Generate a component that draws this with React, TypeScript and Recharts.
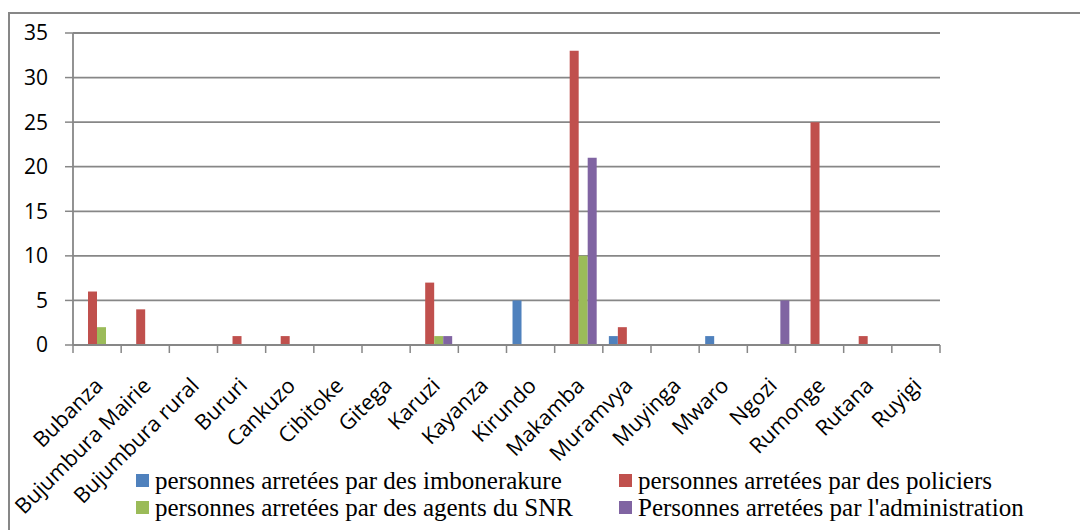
import { Bar, BarChart, CartesianGrid, Legend, XAxis, YAxis } from "recharts"

const categories = [
  "Bubanza",
  "Bujumbura Mairie",
  "Bujumbura rural",
  "Bururi",
  "Cankuzo",
  "Cibitoke",
  "Gitega",
  "Karuzi",
  "Kayanza",
  "Kirundo",
  "Makamba",
  "Muramvya",
  "Muyinga",
  "Mwaro",
  "Ngozi",
  "Rumonge",
  "Rutana",
  "Ruyigi",
]
const imbonerakure = [0, 0, 0, 0, 0, 0, 0, 0, 0, 5, 0, 1, 0, 1, 0, 0, 0, 0]
const policiers = [6, 4, 0, 1, 1, 0, 0, 7, 0, 0, 33, 2, 0, 0, 0, 25, 1, 0]
const agentsSnr = [2, 0, 0, 0, 0, 0, 0, 1, 0, 0, 10, 0, 0, 0, 0, 0, 0, 0]
const administration = [0, 0, 0, 0, 0, 0, 0, 1, 0, 0, 21, 0, 0, 0, 5, 0, 0, 0]
const yTicks = [0, 5, 10, 15, 20, 25, 30, 35]

const series = [
  { key: "imbonerakure", name: "personnes arretées par des imbonerakure", color: "#4f81bd" },
  { key: "policiers", name: "personnes arretées par des policiers", color: "#c0504d" },
  { key: "snr", name: "personnes arretées par des agents du SNR", color: "#9bbb59" },
  { key: "administration", name: "Personnes arretées par l'administration", color: "#8064a2" },
]

const data = categories.map((name, i) => ({
  name,
  imbonerakure: imbonerakure[i],
  policiers: policiers[i],
  snr: agentsSnr[i],
  administration: administration[i],
}))

const W = 1080
const H = 530
const margin = { top: 33, right: 140, bottom: 85, left: 0 }
const Y_W = 73
const X_H = 100
const PLOT_BOTTOM = H - margin.bottom - X_H
const BAND = (W - margin.left - margin.right - Y_W) / categories.length
const GRID = "#878787"

function CategoryTick(props: any) {
  const { x, payload, index } = props
  const left = x - BAND / 2
  const tx = x + 7
  const ty = PLOT_BOTTOM + 42
  return (
    <g>
      <line x1={left} y1={PLOT_BOTTOM} x2={left} y2={PLOT_BOTTOM + 8} stroke={GRID} strokeWidth={1.5} />
      {index === categories.length - 1 && (
        <line x1={x + BAND / 2} y1={PLOT_BOTTOM} x2={x + BAND / 2} y2={PLOT_BOTTOM + 8} stroke={GRID} strokeWidth={1.5} />
      )}
      <text
        x={tx}
        y={ty}
        textAnchor="end"
        transform={`rotate(-45, ${tx}, ${ty})`}
        fontFamily="'Open Sans', sans-serif"
        fontSize={21.5}
        fill="#000"
      >
        {payload.value}
      </text>
    </g>
  )
}

function ChartLegend() {
  return (
    <div
      style={{
        display: "grid",
        gridTemplateColumns: "483px auto",
        fontFamily: "'Liberation Serif', 'Times New Roman', serif",
        fontSize: 25,
        color: "#000",
      }}
    >
      {series.map((s) => (
        <div key={s.key} style={{ display: "flex", alignItems: "center", height: 27, whiteSpace: "nowrap" }}>
          <span style={{ width: 13, height: 13, background: s.color, marginRight: 6, display: "inline-block" }} />
          {s.name}
        </div>
      ))}
    </div>
  )
}

export default function App() {
  return (
    <div style={{ position: "absolute", left: 0, top: 0, width: W, height: H, overflow: "hidden", background: "#fff" }}>
      <div
        style={{
          position: "absolute",
          left: 8,
          top: 12,
          width: 1200,
          height: 700,
          borderTop: `2px solid ${GRID}`,
          borderLeft: `2px solid ${GRID}`,
        }}
      />
      <div style={{ position: "absolute", left: 0, top: 0 }}>
        <BarChart width={W} height={H} data={data} margin={margin} barGap={0} barCategoryGap="12.5%">
          <CartesianGrid vertical={false} stroke={GRID} strokeWidth={1.8} />
          <XAxis
            dataKey="name"
            interval={0}
            height={X_H}
            axisLine={{ stroke: GRID, strokeWidth: 1.8 }}
            tickLine={false}
            tick={<CategoryTick />}
          />
          <YAxis
            width={Y_W}
            domain={[0, 35]}
            ticks={yTicks}
            axisLine={{ stroke: GRID, strokeWidth: 1.8 }}
            tickLine={{ stroke: GRID, strokeWidth: 1.5 }}
            tickSize={8}
            tickMargin={17}
            tick={{ fill: "#000", fontSize: 21, fontFamily: "'Open Sans', sans-serif" }}
          />
          <Legend
            layout="horizontal"
            verticalAlign="middle"
            align="center"
            wrapperStyle={{ top: 467, left: 136, width: 920, height: 56 }}
            content={<ChartLegend />}
          />
          {series.map((s) => (
            <Bar key={s.key} dataKey={s.key} name={s.name} fill={s.color} isAnimationActive={false} />
          ))}
        </BarChart>
      </div>
    </div>
  )
}
